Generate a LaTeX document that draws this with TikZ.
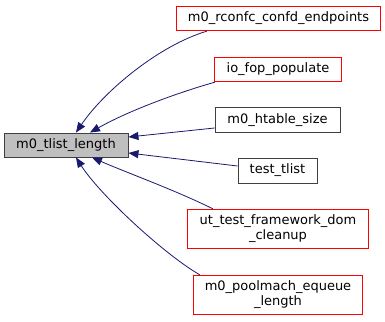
\documentclass[tikz,border=0pt]{standalone}
\usepackage{fontspec}
\setmainfont{DejaVu Sans}
\usetikzlibrary{arrows.meta}
\definecolor{edgeblue}{HTML}{191970}
\definecolor{boxgray}{HTML}{BFBFBF}
\definecolor{boxline}{HTML}{404040}
\definecolor{boxred}{HTML}{FF0000}
\tikzset{
  fnbox/.style={inner sep=0pt, text=black,
    font=\fontsize{13}{15}\selectfont, align=center},
  fn/.style={fnbox, draw=boxline, line width=0.9pt, fill=white},
  % red frame: red fill with a white inset, so the border is a filled band
  fnred/.style={fnbox, fill=boxred,
    path picture={\fill[white]
      ([shift={(0.9pt,-0.9pt)}]path picture bounding box.north west) rectangle
      ([shift={(-0.9pt,0.9pt)}]path picture bounding box.south east);}},
  fnmain/.style={fn, fill=boxgray},
  edge/.style={edgeblue, line width=0.8pt,
    -{Triangle[length=10pt,width=8pt]}},
}
\begin{document}
\begin{tikzpicture}[x=1pt,y=-1pt]
  \useasboundingbox (0,0) rectangle (385,321);
  % callee
  \node[fnmain, minimum width=124pt, minimum height=24pt] (m) at (66,145) {m0\_tlist\_length};
  % callers
  \node[fnred, minimum width=205pt, minimum height=25pt] (r) at (278.5,18.5) {m0\_rconfc\_confd\_endpoints};
  \node[fnred, minimum width=128pt, minimum height=25pt] (f) at (278,69.5) {io\_fop\_populate};
  \node[fn, minimum width=125pt, minimum height=25pt] (h) at (277.5,120) {m0\_htable\_size};
  \node[fn, minimum width=79pt, minimum height=25pt] (t) at (277.5,170.5) {test\_tlist};
  \node[fnred, minimum width=182pt, minimum height=40pt] (u) at (278,229) {ut\_test\_framework\_dom\\\_cleanup};
  \node[fnred, minimum width=170pt, minimum height=40pt] (p) at (278,295) {m0\_poolmach\_equeue\\\_length};
  % call edges
  \draw[edge] ([xshift=31pt]r.south west) .. controls (160,45) and (105,90) .. ([xshift=10pt]m.north);
  \draw[edge] ([xshift=1pt]f.south west) .. controls (180,92) and (130,110) .. ([xshift=24pt]m.north);
  \draw[edge] ([yshift=-8pt]h.west) -- ([yshift=8pt]m.east);
  \draw[edge] ([yshift=4.5pt]t.west) -- ([yshift=-8pt]m.east);
  \draw[edge] ([xshift=26pt]u.north west) .. controls (175,190) and (125,172) .. ([xshift=26pt]m.south);
  \draw[edge] ([xshift=7pt]p.north west) .. controls (165,255) and (100,195) .. ([xshift=10pt]m.south);
\end{tikzpicture}
\end{document}
